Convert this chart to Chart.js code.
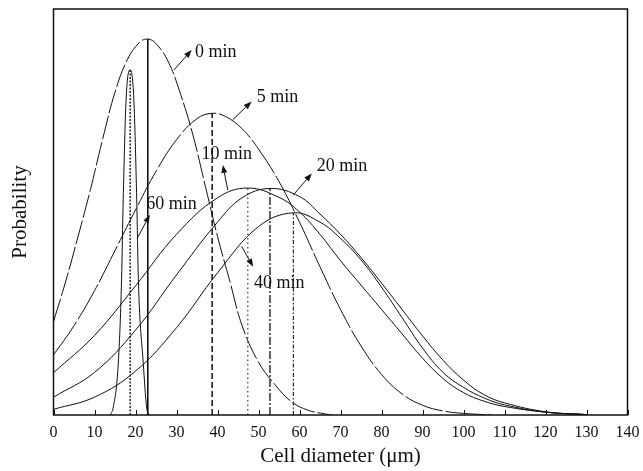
<!DOCTYPE html>
<html lang="en">
  <head>
    <meta charset="UTF-8" />
    <title>Cell diameter distribution</title>
    <script src="https://cdn.jsdelivr.net/npm/chart.js@4.4.1/dist/chart.umd.min.js"></script>
    <style>
      html, body { margin: 0; padding: 0; background: #fff; }
    </style>
  </head>
  <body>
    <canvas id="sizeChart" width="643" height="471"></canvas>

    <script>
      // x axis ticks (cell diameter, um)
      const xTicks = [0, 10, 20, 30, 40, 50, 60, 70, 80, 90, 100, 110, 120, 130, 140];

      // 0 min
      const d0 = [0, 3, 6, 9, 12, 15, 18, 21, 23, 25, 28, 31, 34, 37, 40, 43, 46, 50, 54, 58, 62, 66, 68];
      const p0 = [23, 33, 44, 55.5, 68, 79.5, 87.5, 91.8, 92.6, 91.5, 87, 79, 69, 56.5, 44, 33, 22, 13, 7.5, 3.3, 1.2, 0.3, 0];

      // 5 min
      const d5 = [0, 5, 10, 15, 20, 25, 30, 35, 38.7, 42, 46, 50, 55, 60, 65, 70, 75, 80, 85, 90, 95, 100, 107];
      const p5 = [14.8, 22, 30.6, 40.5, 50.5, 60, 67.8, 73, 74.3, 73.5, 70.5, 65.5, 57.5, 47.5, 36.5, 26, 17, 10, 5.2, 2.4, 1, 0.4, 0];

      // 10 min
      const d10 = [0, 10, 20, 30, 40, 47.4, 55, 60, 65, 70, 75, 80, 85, 90, 95, 100, 105, 110, 120, 130];
      const p10 = [10.4, 19.6, 31.8, 44.5, 53.5, 55.9, 53.6, 50, 44.5, 38, 32, 26, 20, 14, 9, 5.5, 3.4, 2.1, 0.7, 0.1];

      // 20 min
      const d20 = [0, 10, 20, 30, 40, 46, 52.8, 60, 65, 70, 75, 80, 85, 90, 95, 100, 105, 110, 120, 130];
      const p20 = [4.4, 10.5, 20.9, 34.5, 47.5, 53.5, 55.8, 53.8, 49.5, 44.5, 38.8, 32.5, 26, 19.5, 13.5, 8.6, 5, 3, 0.8, 0.1];

      // 40 min
      const d40 = [0, 10, 20, 30, 40, 50, 58.5, 65, 70, 75, 80, 85, 90, 95, 100, 105, 110, 120, 130];
      const p40 = [1.4, 4.4, 10.8, 21.5, 35, 46.4, 49.8, 47.5, 43.5, 38.2, 31.5, 24, 16.5, 10.5, 6.8, 4.2, 2.5, 0.7, 0.1];

      // 60 min
      const d60 = [13.8, 14.6, 15.8, 16.6, 17.0, 17.7, 18.7, 19.6, 20.3, 20.7, 21.9, 22.7, 23.3];
      const p60 = [0, 2, 12.7, 33.3, 53, 77.6, 85, 77.6, 53, 33.3, 12.7, 2, 0];

      // mode of each distribution (0, 60, 5, 10, 20, 40 min)
      const modeX = [23, 18.7, 38.7, 47.4, 52.8, 58.5];
      const modeY = [92.6, 85, 74.3, 55.9, 55.8, 49.8];

      const INK = '#111';
      const FONT = 'Liberation Serif';

      const pts = (xs, ys) => xs.map((x, i) => ({ x: x, y: ys[i] }));

      const curve = (label, xs, ys, dash, mode) => ({
        label: label,
        data: pts(xs, ys),
        borderColor: INK,
        borderWidth: 1,
        borderDash: dash || [],
        pointRadius: 0,
        cubicInterpolationMode: mode || 'default',
        tension: 0.4,
        fill: false
      });

      // vertical line from the axis up to a curve's mode
      const modeLine = (i, width, dash) => ({
        label: 'mode ' + i,
        data: [{ x: modeX[i], y: 0 }, { x: modeX[i], y: modeY[i] }],
        borderColor: INK,
        borderWidth: width,
        borderDash: dash,
        pointRadius: 0,
        tension: 0,
        fill: false
      });

      // arrow labels: from/to/at are in axis units
      const notes = [
        { text: '0 min', from: [29.4, 85.0], to: [33.7, 89.9], at: [34.5, 89.4] },
        { text: '5 min', from: [43.7, 72.7], to: [48.3, 77.2], at: [49.6, 78.3] },
        { text: '10 min', from: [42.5, 55.4], to: [41.3, 61.6], at: [36.1, 64.3] },
        { text: '20 min', from: [58.5, 54.2], to: [63, 59.5], at: [64.2, 61.3] },
        { text: '60 min', from: [20.4, 43.5], to: [23.5, 49.3], at: [22.6, 52] },
        { text: '40 min', from: [45.9, 41.5], to: [48.7, 36.5], at: [48.9, 32.5] }
      ];

      function drawArrow(ctx, x1, y1, x2, y2) {
        const a = Math.atan2(y2 - y1, x2 - x1);
        const len = 8, half = 3;
        const bx = x2 - len * Math.cos(a), by = y2 - len * Math.sin(a);
        ctx.beginPath();
        ctx.moveTo(x1, y1);
        ctx.lineTo(bx, by);
        ctx.stroke();
        ctx.beginPath();
        ctx.moveTo(x2, y2);
        ctx.lineTo(bx + half * Math.sin(a), by - half * Math.cos(a));
        ctx.lineTo(bx - half * Math.sin(a), by + half * Math.cos(a));
        ctx.closePath();
        ctx.fill();
      }

      const framePlugin = {
        id: 'frameAndNotes',
        afterDatasetsDraw(chart) {
          const { ctx, chartArea: a, scales } = chart;
          const xs = scales.x, ys = scales.y;
          ctx.save();
          ctx.strokeStyle = INK;
          ctx.fillStyle = INK;
          ctx.setLineDash([]);

          // box round the plot
          ctx.lineWidth = 1.5;
          ctx.strokeRect(a.left, a.top, a.right - a.left, a.bottom - a.top);

          // inward tick marks on the bottom axis
          ctx.lineWidth = 1;
          xTicks.forEach((v) => {
            const px = Math.round(xs.getPixelForValue(v)) + 0.5;
            ctx.beginPath();
            ctx.moveTo(px, a.bottom);
            ctx.lineTo(px, a.bottom - 5);
            ctx.stroke();
          });

          // arrows and time labels
          ctx.font = '18px "' + FONT + '"';
          ctx.textAlign = 'left';
          ctx.textBaseline = 'middle';
          notes.forEach((n) => {
            drawArrow(
              ctx,
              xs.getPixelForValue(n.from[0]), ys.getPixelForValue(n.from[1]),
              xs.getPixelForValue(n.to[0]), ys.getPixelForValue(n.to[1])
            );
            ctx.fillText(n.text, xs.getPixelForValue(n.at[0]), ys.getPixelForValue(n.at[1]));
          });
          ctx.restore();
        }
      };

      const ctx = document.getElementById('sizeChart').getContext('2d');
      const sizeChart = new Chart(ctx, {
        type: 'line',
        data: {
          datasets: [
            curve('0 min', d0, p0, [24, 3]),
            curve('5 min', d5, p5, [40, 3]),
            curve('10 min', d10, p10),
            curve('20 min', d20, p20),
            curve('40 min', d40, p40),
            curve('60 min', d60, p60, [], 'monotone'),
            modeLine(0, 1.6, []),
            modeLine(1, 1.4, [2, 1.5]),
            modeLine(2, 1.5, [6, 3]),
            modeLine(3, 1, [1.5, 3]),
            modeLine(4, 1.3, [8, 2, 2, 2]),
            modeLine(5, 1.1, [4, 2, 1.5, 2])
          ]
        },
        options: {
          responsive: false,
          animation: false,
          layout: { padding: { top: 9, right: 15.5, bottom: 0, left: 0 } },
          plugins: {
            legend: { display: false },
            tooltip: { enabled: false }
          },
          scales: {
            x: {
              type: 'linear',
              min: 0,
              max: 140,
              grid: { display: false },
              border: { display: false },
              afterBuildTicks: (s) => { s.ticks = xTicks.map((v) => ({ value: v })); },
              afterFit: (s) => { s.height = 56; },
              ticks: {
                padding: 0,
                color: INK,
                maxRotation: 0,
                autoSkip: false,
                font: { family: FONT, size: 16 }
              },
              title: {
                display: true,
                text: 'Cell diameter (\u03bcm)',
                color: INK,
                font: { family: FONT, size: 21 },
                padding: { top: 0, bottom: 2 }
              }
            },
            y: {
              min: 0,
              max: 100,
              grid: { display: false },
              border: { display: false },
              ticks: { display: false },
              afterFit: (s) => { s.width = 53.5; },
              title: {
                display: true,
                text: 'Probability',
                color: INK,
                font: { family: FONT, size: 21 },
                padding: { top: 8, bottom: 0 }
              }
            }
          }
        },
        plugins: [framePlugin]
      });
    </script>
  </body>
</html>
